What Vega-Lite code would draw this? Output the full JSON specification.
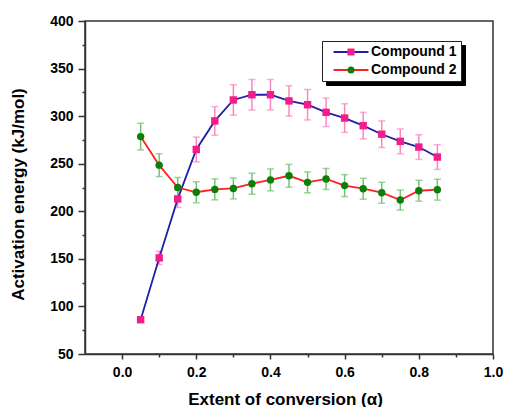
{
  "$schema": "https://vega.github.io/schema/vega-lite/v6.json",
  "width": 408,
  "height": 333,
  "autosize": {"type": "none"},
  "padding": {"left": 85, "top": 21, "right": 13, "bottom": 53},
  "background": "white",
  "config": {
    "view": {"stroke": "#333", "strokeWidth": 1.5},
    "font": "Liberation Sans"
  },
  "data": {
    "values": [
      {"alpha": 0.05, "compound": "Compound 1", "energy": 86, "err": 2},
      {"alpha": 0.10, "compound": "Compound 1", "energy": 151, "err": 7},
      {"alpha": 0.15, "compound": "Compound 1", "energy": 213, "err": 9},
      {"alpha": 0.20, "compound": "Compound 1", "energy": 265, "err": 13},
      {"alpha": 0.25, "compound": "Compound 1", "energy": 295, "err": 15},
      {"alpha": 0.30, "compound": "Compound 1", "energy": 317, "err": 16},
      {"alpha": 0.35, "compound": "Compound 1", "energy": 322.5, "err": 16},
      {"alpha": 0.40, "compound": "Compound 1", "energy": 322.5, "err": 16},
      {"alpha": 0.45, "compound": "Compound 1", "energy": 316, "err": 16},
      {"alpha": 0.50, "compound": "Compound 1", "energy": 312, "err": 16},
      {"alpha": 0.55, "compound": "Compound 1", "energy": 304, "err": 15},
      {"alpha": 0.60, "compound": "Compound 1", "energy": 298, "err": 15},
      {"alpha": 0.65, "compound": "Compound 1", "energy": 290, "err": 14},
      {"alpha": 0.70, "compound": "Compound 1", "energy": 281, "err": 14},
      {"alpha": 0.75, "compound": "Compound 1", "energy": 273.5, "err": 13},
      {"alpha": 0.80, "compound": "Compound 1", "energy": 267.5, "err": 13},
      {"alpha": 0.85, "compound": "Compound 1", "energy": 257, "err": 13},
      {"alpha": 0.05, "compound": "Compound 2", "energy": 278.5, "err": 14},
      {"alpha": 0.10, "compound": "Compound 2", "energy": 248.5, "err": 12},
      {"alpha": 0.15, "compound": "Compound 2", "energy": 225, "err": 10.5},
      {"alpha": 0.20, "compound": "Compound 2", "energy": 220, "err": 11},
      {"alpha": 0.25, "compound": "Compound 2", "energy": 223, "err": 11},
      {"alpha": 0.30, "compound": "Compound 2", "energy": 224, "err": 11},
      {"alpha": 0.35, "compound": "Compound 2", "energy": 229, "err": 11},
      {"alpha": 0.40, "compound": "Compound 2", "energy": 233, "err": 11.5},
      {"alpha": 0.45, "compound": "Compound 2", "energy": 237.3, "err": 12},
      {"alpha": 0.50, "compound": "Compound 2", "energy": 230.4, "err": 11},
      {"alpha": 0.55, "compound": "Compound 2", "energy": 234, "err": 11},
      {"alpha": 0.60, "compound": "Compound 2", "energy": 227, "err": 11.5},
      {"alpha": 0.65, "compound": "Compound 2", "energy": 223.7, "err": 11},
      {"alpha": 0.70, "compound": "Compound 2", "energy": 219.5, "err": 11},
      {"alpha": 0.75, "compound": "Compound 2", "energy": 211.8, "err": 10.5},
      {"alpha": 0.80, "compound": "Compound 2", "energy": 221.6, "err": 11},
      {"alpha": 0.85, "compound": "Compound 2", "energy": 222.7, "err": 11}
    ]
  },
  "resolve": {"axis": {"x": "independent", "y": "independent"}},
  "layer": [
    {
      "mark": {"type": "errorbar", "ticks": {"size": 7}, "thickness": 1.5},
      "encoding": {
        "x": {"field": "alpha", "type": "quantitative", "axis": null,
              "scale": {"domain": [-0.1, 1.0], "nice": false, "zero": false}},
        "y": {"field": "energy", "type": "quantitative", "axis": null,
              "scale": {"domain": [50, 400], "nice": false, "zero": false}},
        "yError": {"field": "err"},
        "color": {
          "field": "compound", "type": "nominal", "sort": "descending",
          "scale": {"range": ["#74c274", "#ff85c2"]},
          "legend": {
            "orient": "none", "legendX": 241, "legendY": 24, "title": null, "zindex": 0,
            "fillColor": "#000", "strokeColor": "#000",
            "padding": 4, "symbolOffset": 18, "labelOffset": 13, "rowPadding": 4,
            "symbolType": "M-5,0H5", "symbolSize": 49, "symbolOpacity": 0, "symbolStrokeWidth": 2,
            "labelFont": "Liberation Sans", "labelFontSize": 14, "labelFontWeight": "bold",
            "labelColor": "transparent"
          }
        }
      }
    },
    {
      "mark": {"type": "line", "strokeWidth": 1.8},
      "encoding": {
        "x": {"field": "alpha", "type": "quantitative",
              "axis": {"orient": "bottom", "values": [0, 0.2, 0.4, 0.6, 0.8, 1.0], "format": ".1f",
                       "title": "Extent of conversion (α)", "grid": false,
                       "labelFont": "Liberation Sans", "labelFontSize": 14, "labelFontWeight": "bold", "labelColor": "#000",
                       "labelPadding": 6, "labelFlush": false,
                       "tickSize": 5, "tickWidth": 1.5, "tickColor": "#333",
                       "domainColor": "#333", "domainWidth": 1.5,
                       "titleFont": "Liberation Sans", "titleFontSize": 17, "titleFontWeight": "bold", "titleColor": "#000",
                       "titleX": 200, "titleY": 50, "titleBaseline": "alphabetic"}},
        "y": {"field": "energy", "type": "quantitative",
              "axis": {"orient": "left", "values": [50, 100, 150, 200, 250, 300, 350, 400],
                       "title": "Activation energy (kJ/mol)", "grid": false,
                       "labelFont": "Liberation Sans", "labelFontSize": 14, "labelFontWeight": "bold", "labelColor": "#000",
                       "labelPadding": 5,
                       "tickSize": 7, "tickWidth": 1.5, "tickColor": "#333",
                       "domainColor": "#333", "domainWidth": 1.5,
                       "titleFont": "Liberation Sans", "titleFontSize": 17, "titleFontWeight": "bold", "titleColor": "#000",
                       "titleX": -62, "titleY": 173, "titleBaseline": "alphabetic"}},
        "detail": {"field": "compound"},
        "stroke": {
          "field": "compound", "type": "nominal",
          "scale": {"domain": ["Compound 1", "Compound 2"], "range": ["#2020a8", "#ff2020"]},
          "legend": {
            "orient": "none", "legendX": 237, "legendY": 20, "title": null, "zindex": 1,
            "fillColor": "#fff", "strokeColor": "#222",
            "padding": 4, "symbolOffset": 18, "labelOffset": 13, "rowPadding": 4,
            "symbolType": "M-5,0H5", "symbolSize": 49, "symbolStrokeWidth": 2,
            "labelFont": "Liberation Sans", "labelFontSize": 14, "labelFontWeight": "bold",
            "labelColor": "#000"
          }
        }
      }
    },
    {
      "mark": {"type": "point", "filled": true, "size": 55, "opacity": 1},
      "encoding": {
        "x": {"field": "alpha", "type": "quantitative",
              "axis": {"orient": "bottom", "values": [0.1, 0.3, 0.5, 0.7, 0.9], "labels": false, "domain": false,
                       "title": null, "grid": false, "tickSize": 3, "tickWidth": 1.5, "tickColor": "#333"}},
        "y": {"field": "energy", "type": "quantitative",
              "axis": {"orient": "left", "values": [75, 125, 175, 225, 275, 325, 375], "labels": false, "domain": false,
                       "title": null, "grid": false, "tickSize": 3, "tickWidth": 1.5, "tickColor": "#333"}},
        "fill": {
          "field": "compound", "type": "nominal",
          "scale": {"range": ["#f21d8a", "#0a7f0a"]},
          "legend": {
            "orient": "none", "legendX": 237, "legendY": 20, "title": null, "zindex": 2,
            "padding": 4, "symbolOffset": 18, "labelOffset": 13, "rowPadding": 4,
            "symbolSize": 49, "symbolStrokeWidth": 0,
            "labelFont": "Liberation Sans", "labelFontSize": 14, "labelFontWeight": "bold",
            "labelColor": "transparent"
          }
        },
        "shape": {
          "field": "compound", "type": "nominal",
          "scale": {"range": ["square", "circle"]},
          "legend": {
            "orient": "none", "legendX": 237, "legendY": 20, "title": null, "zindex": 2,
            "padding": 4, "symbolOffset": 18, "labelOffset": 13, "rowPadding": 4,
            "symbolSize": 49, "symbolStrokeWidth": 0,
            "labelFont": "Liberation Sans", "labelFontSize": 14, "labelFontWeight": "bold",
            "labelColor": "transparent"
          }
        }
      }
    }
  ]
}
